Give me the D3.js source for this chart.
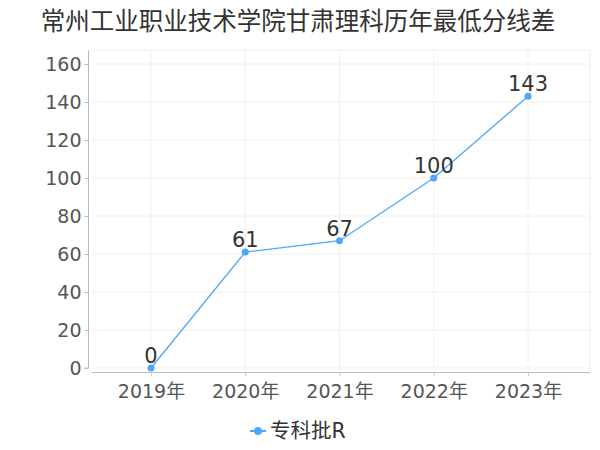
<!DOCTYPE html>
<html><head><meta charset="utf-8">
<script src="https://cdn.jsdelivr.net/npm/d3@7"></script>
<style>body{margin:0;background:#fff;} svg{display:block;font-family:"DejaVu Sans","Noto Sans CJK SC",sans-serif;}</style>
</head><body>
<svg id="c" width="600" height="450"></svg>
<script>
const title = "常州工业职业技术学院甘肃理科历年最低分线差";
const categories = ["2019年","2020年","2021年","2022年","2023年"];
const seriesName = "专科批R";
const values = [0, 61, 67, 100, 143];
const yTicks = [0,20,40,60,80,100,120,140,160];

const svg = d3.select("#c");
const color = "#4ea6f8";
const plot = {left:92, right:590, top:50, bottom:372};
const ff = '"DejaVu Sans","Noto Sans CJK SC",sans-serif';

svg.append("text").attr("x",298).attr("y",30).attr("text-anchor","middle")
  .attr("font-size",24.5).attr("fill","#333").attr("font-family",ff).text(title);

const x = d3.scalePoint().domain(categories).range([151,528]);
const y = d3.scaleLinear().domain([0,160]).range([368,64]);

// grid
const g = svg.append("g");
g.selectAll("line.h").data(yTicks).join("line")
  .attr("x1",plot.left).attr("x2",plot.right).attr("y1",d=>y(d)).attr("y2",d=>y(d))
  .attr("stroke","#f0f0f0").attr("stroke-width",1);
g.selectAll("line.v").data(categories).join("line")
  .attr("x1",d=>x(d)).attr("x2",d=>x(d)).attr("y1",plot.top).attr("y2",plot.bottom)
  .attr("stroke","#f0f0f0");
g.append("line").attr("x1",plot.right).attr("x2",plot.right).attr("y1",plot.top).attr("y2",plot.bottom).attr("stroke","#f0f0f0");
g.append("line").attr("x1",plot.left).attr("x2",plot.right).attr("y1",plot.top).attr("y2",plot.top).attr("stroke","#f0f0f0");

// y axis
const ya = svg.append("g").attr("transform","translate(88.5,0)")
  .call(d3.axisLeft(y).tickValues(yTicks).tickSize(4).tickPadding(3));
ya.select(".domain").attr("stroke","#bbb").attr("d","M-4,"+y(0)+"H0V"+plot.top);
ya.selectAll(".tick line").attr("stroke","#bbb");
ya.selectAll("text").attr("font-size",19).attr("fill","#555").attr("font-family",ff);

// x axis
const xa = svg.append("g").attr("transform","translate(0,"+(plot.bottom+0.5)+")")
  .call(d3.axisBottom(x).tickSize(4).tickPadding(8));
xa.select(".domain").attr("stroke","#bbb").attr("d","M"+plot.left+",0H"+plot.right);
xa.selectAll(".tick line").attr("stroke","#ccc");
xa.selectAll("text").attr("font-size",19).attr("fill","#555").attr("font-family",ff);

// line
const line = d3.line().x((d,i)=>x(categories[i])).y(d=>y(d));
svg.append("path").datum(values).attr("d",line).attr("fill","none").attr("stroke",color).attr("stroke-width",1.3);
svg.selectAll("circle.p").data(values).join("circle")
  .attr("cx",(d,i)=>x(categories[i])).attr("cy",d=>y(d)).attr("r",3.5).attr("fill",color);
svg.selectAll("text.lbl").data(values).join("text")
  .attr("x",(d,i)=>x(categories[i])).attr("y",d=>y(d)-5).attr("text-anchor","middle")
  .attr("font-size",21).attr("fill","#333").attr("font-family",ff).text(d=>d);

// legend
const lg = svg.append("g");
lg.append("line").attr("x1",250).attr("x2",266).attr("y1",431).attr("y2",431).attr("stroke",color).attr("stroke-width",2);
lg.append("circle").attr("cx",258).attr("cy",431).attr("r",4).attr("fill",color);
lg.append("text").attr("x",270).attr("y",438).attr("font-size",20.5).attr("fill","#333").attr("font-family",ff).text(seriesName);
</script>
</body></html>
